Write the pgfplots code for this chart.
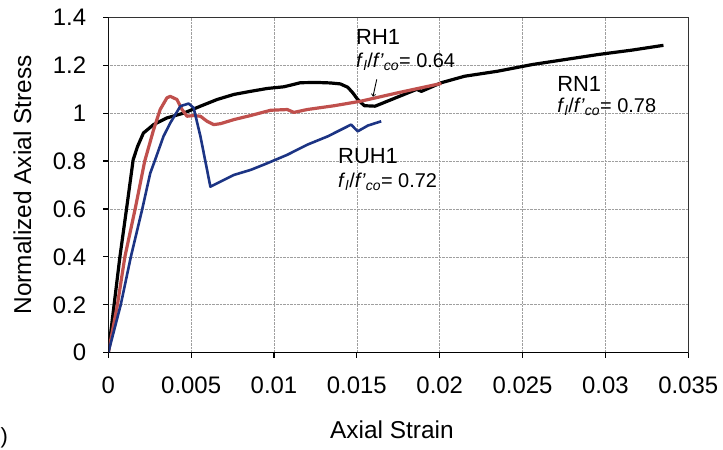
\documentclass[border=0pt]{standalone}
\usepackage{fontspec}
\setmainfont{Liberation Sans}
\usepackage{pgfplots}
\pgfplotsset{compat=1.18}
\definecolor{cRed}{RGB}{192,80,77}
\definecolor{cBlue}{RGB}{28,52,132}
\newcommand{\fr}[1]{\textit{f}\textsubscript{\textit{l}}/\textit{f'}\textsubscript{\textit{co}}= #1}
\begin{document}
\begin{tikzpicture}
\begin{axis}[
  scale only axis,
  width=580bp, height=335.4bp,
  xmin=0, xmax=0.035, ymin=0, ymax=1.4,
  xtick={0,0.005,...,0.035},
  ytick={0,0.2,...,1.4},
  xtick pos=left, ytick pos=left,
  tick align=outside,
  major tick length=5bp,
  tick style={black, line width=1.1bp},
  axis line style={black!80, line width=0.8bp},
  grid=major,
  major grid style={densely dotted, gray!75, line width=0.6bp},
  /pgf/number format/assume math mode=true,
  xticklabel style={/pgf/number format/fixed, /pgf/number format/precision=3, font=\fontsize{24}{28}\selectfont, anchor=base, inner sep=0pt, yshift=-35.6bp},
  yticklabel style={/pgf/number format/fixed, /pgf/number format/precision=1, font=\fontsize{24}{28}\selectfont, anchor=east, inner sep=0pt, xshift=-17bp},
  scaled x ticks=false,
  xlabel={Axial Strain},
  ylabel={Normalized Axial Stress},
  xlabel style={at={(axis description cs:0.489,0)}, anchor=base, yshift=-85.3bp, font=\fontsize{24.5}{28}\selectfont, inner sep=0pt},
  ylabel style={at={(axis description cs:-0.148,0.5)}, anchor=center, font=\fontsize{24.5}{28}\selectfont, inner sep=0pt},
]
\addplot[black, line width=3.2bp, line join=round] coordinates {
(0,0) (0.00035,0.2) (0.0007,0.4) (0.0011,0.6) (0.0015,0.805) (0.00176,0.86) (0.00212,0.917) (0.00273,0.952) (0.00354,0.98) (0.00455,1.0) (0.00556,1.029) (0.00657,1.057) (0.00758,1.078) (0.00859,1.091) (0.0096,1.103) (0.0106,1.11) (0.0116,1.127) (0.0126,1.128) (0.0134,1.126) (0.014,1.122) (0.01445,1.108) (0.01475,1.085) (0.01505,1.057) (0.01545,1.031) (0.0161,1.029) (0.0171,1.057) (0.0181,1.085) (0.0186,1.099) (0.0189,1.091) (0.0201,1.127) (0.0215,1.154) (0.0235,1.175) (0.0256,1.203) (0.0276,1.224) (0.0296,1.245) (0.0316,1.263) (0.0335,1.283)
};
\addplot[cRed, line width=3.2bp, line join=round] coordinates {
(0,0) (0.00055,0.2) (0.001,0.4) (0.00162,0.6) (0.0022,0.8) (0.00273,0.93) (0.00313,1.015) (0.00354,1.064) (0.00374,1.07) (0.00414,1.057) (0.00445,1.015) (0.00475,0.987) (0.00515,0.99) (0.00556,0.987) (0.00596,0.966) (0.00636,0.952) (0.00677,0.956) (0.00758,0.973) (0.00859,0.99) (0.0098,1.012) (0.0108,1.015) (0.0112,1.003) (0.012,1.015) (0.01364,1.031) (0.01525,1.05) (0.01748,1.085) (0.0201,1.124)
};
\addplot[cBlue, line width=2.6bp, line join=round] coordinates {
(0,0) (0.00075,0.2) (0.00136,0.4) (0.00205,0.6) (0.00253,0.749) (0.0028,0.8) (0.00333,0.903) (0.00374,0.959) (0.00435,1.029) (0.00485,1.04) (0.00515,1.022) (0.00556,0.903) (0.00596,0.763) (0.00616,0.693) (0.00677,0.714) (0.00758,0.742) (0.00859,0.763) (0.0096,0.791) (0.0108,0.826) (0.012,0.868) (0.01324,0.903) (0.01465,0.952) (0.01505,0.924) (0.01566,0.948) (0.01647,0.966)
};
\draw[black, line width=1.6bp] (rel axis cs:0,1) -- (rel axis cs:0,0) -- (rel axis cs:1,0);
\node[anchor=base west, inner sep=0pt, font=\fontsize{22}{26}\selectfont] at (axis cs:0.01495,1.287) {RH1};
\node[anchor=base west, inner sep=0pt, font=\fontsize{20}{24}\selectfont] at (axis cs:0.01495,1.191) {\fr{0.64}};
\node[anchor=base west, inner sep=0pt, font=\fontsize{22}{26}\selectfont] at (axis cs:0.02708,1.090) {RN1};
\node[anchor=base west, inner sep=0pt, font=\fontsize{20}{24}\selectfont] at (axis cs:0.02708,1.002) {\fr{0.78}};
\node[anchor=base west, inner sep=0pt, font=\fontsize{22}{26}\selectfont] at (axis cs:0.01386,0.789) {RUH1};
\node[anchor=base west, inner sep=0pt, font=\fontsize{20}{24}\selectfont] at (axis cs:0.01386,0.689) {\fr{0.72}};
\draw[black, line width=0.9bp, -to] (axis cs:0.0162,1.141) -- (axis cs:0.01597,1.069);
\coordinate (ll) at (rel axis cs:0,0);
\coordinate (ur) at (rel axis cs:1,1);
\end{axis}
\node[anchor=base west, inner sep=0pt, font=\fontsize{22}{26}\selectfont] at ([shift={(-107.8bp,-90.3bp)}]ll) {)};
\pgfresetboundingbox
\path[use as bounding box] ([shift={(-108.3bp,-97.3bp)}]ll) rectangle ([shift={(34.7bp,17.3bp)}]ur);
\end{tikzpicture}
\end{document}
